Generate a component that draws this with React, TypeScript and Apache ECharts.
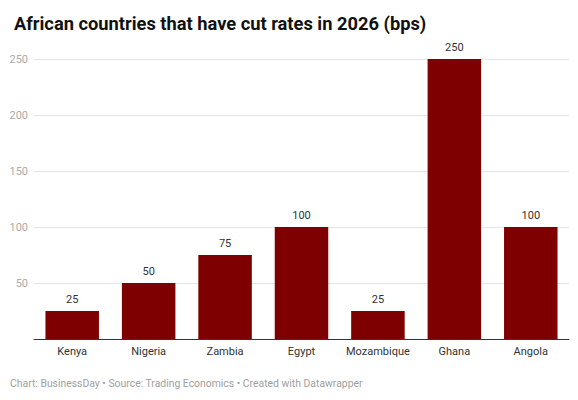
import React, { useEffect, useRef } from "react";
import * as echarts from "echarts";

const categories = ["Kenya", "Nigeria", "Zambia", "Egypt", "Mozambique", "Ghana", "Angola"];
const cuts = [25, 50, 75, 100, 25, 250, 100];
const yTicks = [50, 100, 150, 200, 250];

export default function App() {
  const ref = useRef<HTMLDivElement>(null);
  useEffect(() => {
    if (!ref.current) return;
    const chart = echarts.init(ref.current, null, { renderer: "svg" });
    chart.setOption({
      animation: false,
      textStyle: { fontFamily: "Roboto" },
      title: {
        text: "African countries that have cut rates in 2026 (bps)",
        left: 9,
        top: 9,
        textStyle: { fontFamily: "Roboto", fontSize: 18.3, fontWeight: "bold", color: "#111" },
      },
      graphic: [
        {
          type: "text",
          left: 10,
          top: 378,
          style: {
            text: "Chart: BusinessDay • Source: Trading Economics • Created with Datawrapper",
            font: "10.4px Roboto",
            fill: "#a0a0a0",
          },
        },
      ],
      grid: { left: 34, right: 9, top: 59, bottom: 61, containLabel: false },
      xAxis: {
        type: "category",
        data: categories,
        axisTick: { show: false },
        axisLine: { lineStyle: { color: "#333", width: 1 } },
        axisLabel: { color: "#333", fontSize: 11, margin: 7, fontFamily: "Roboto", interval: 0 },
      },
      yAxis: {
        type: "value",
        min: 0,
        max: 250,
        interval: 50,
        axisLine: { show: false },
        axisTick: { show: false },
        splitLine: { lineStyle: { color: "#e6e6e6" } },
        axisLabel: {
          color: "#aaa",
          fontSize: 11,
          margin: 6,
          fontFamily: "Roboto",
          formatter: (v: number) => (yTicks.includes(v) ? String(v) : ""),
        },
      },
      series: [
        {
          type: "bar",
          data: cuts,
          barCategoryGap: "30%",
          itemStyle: { color: "#7f0000" },
          label: {
            show: true,
            position: "top",
            distance: 6,
            color: "#333",
            fontSize: 11,
            fontFamily: "Roboto",
          },
        },
      ],
    });
    return () => chart.dispose();
  }, []);
  return <div ref={ref} style={{ width: 578, height: 400, position: "absolute", left: 0, top: 0 }} />;
}
